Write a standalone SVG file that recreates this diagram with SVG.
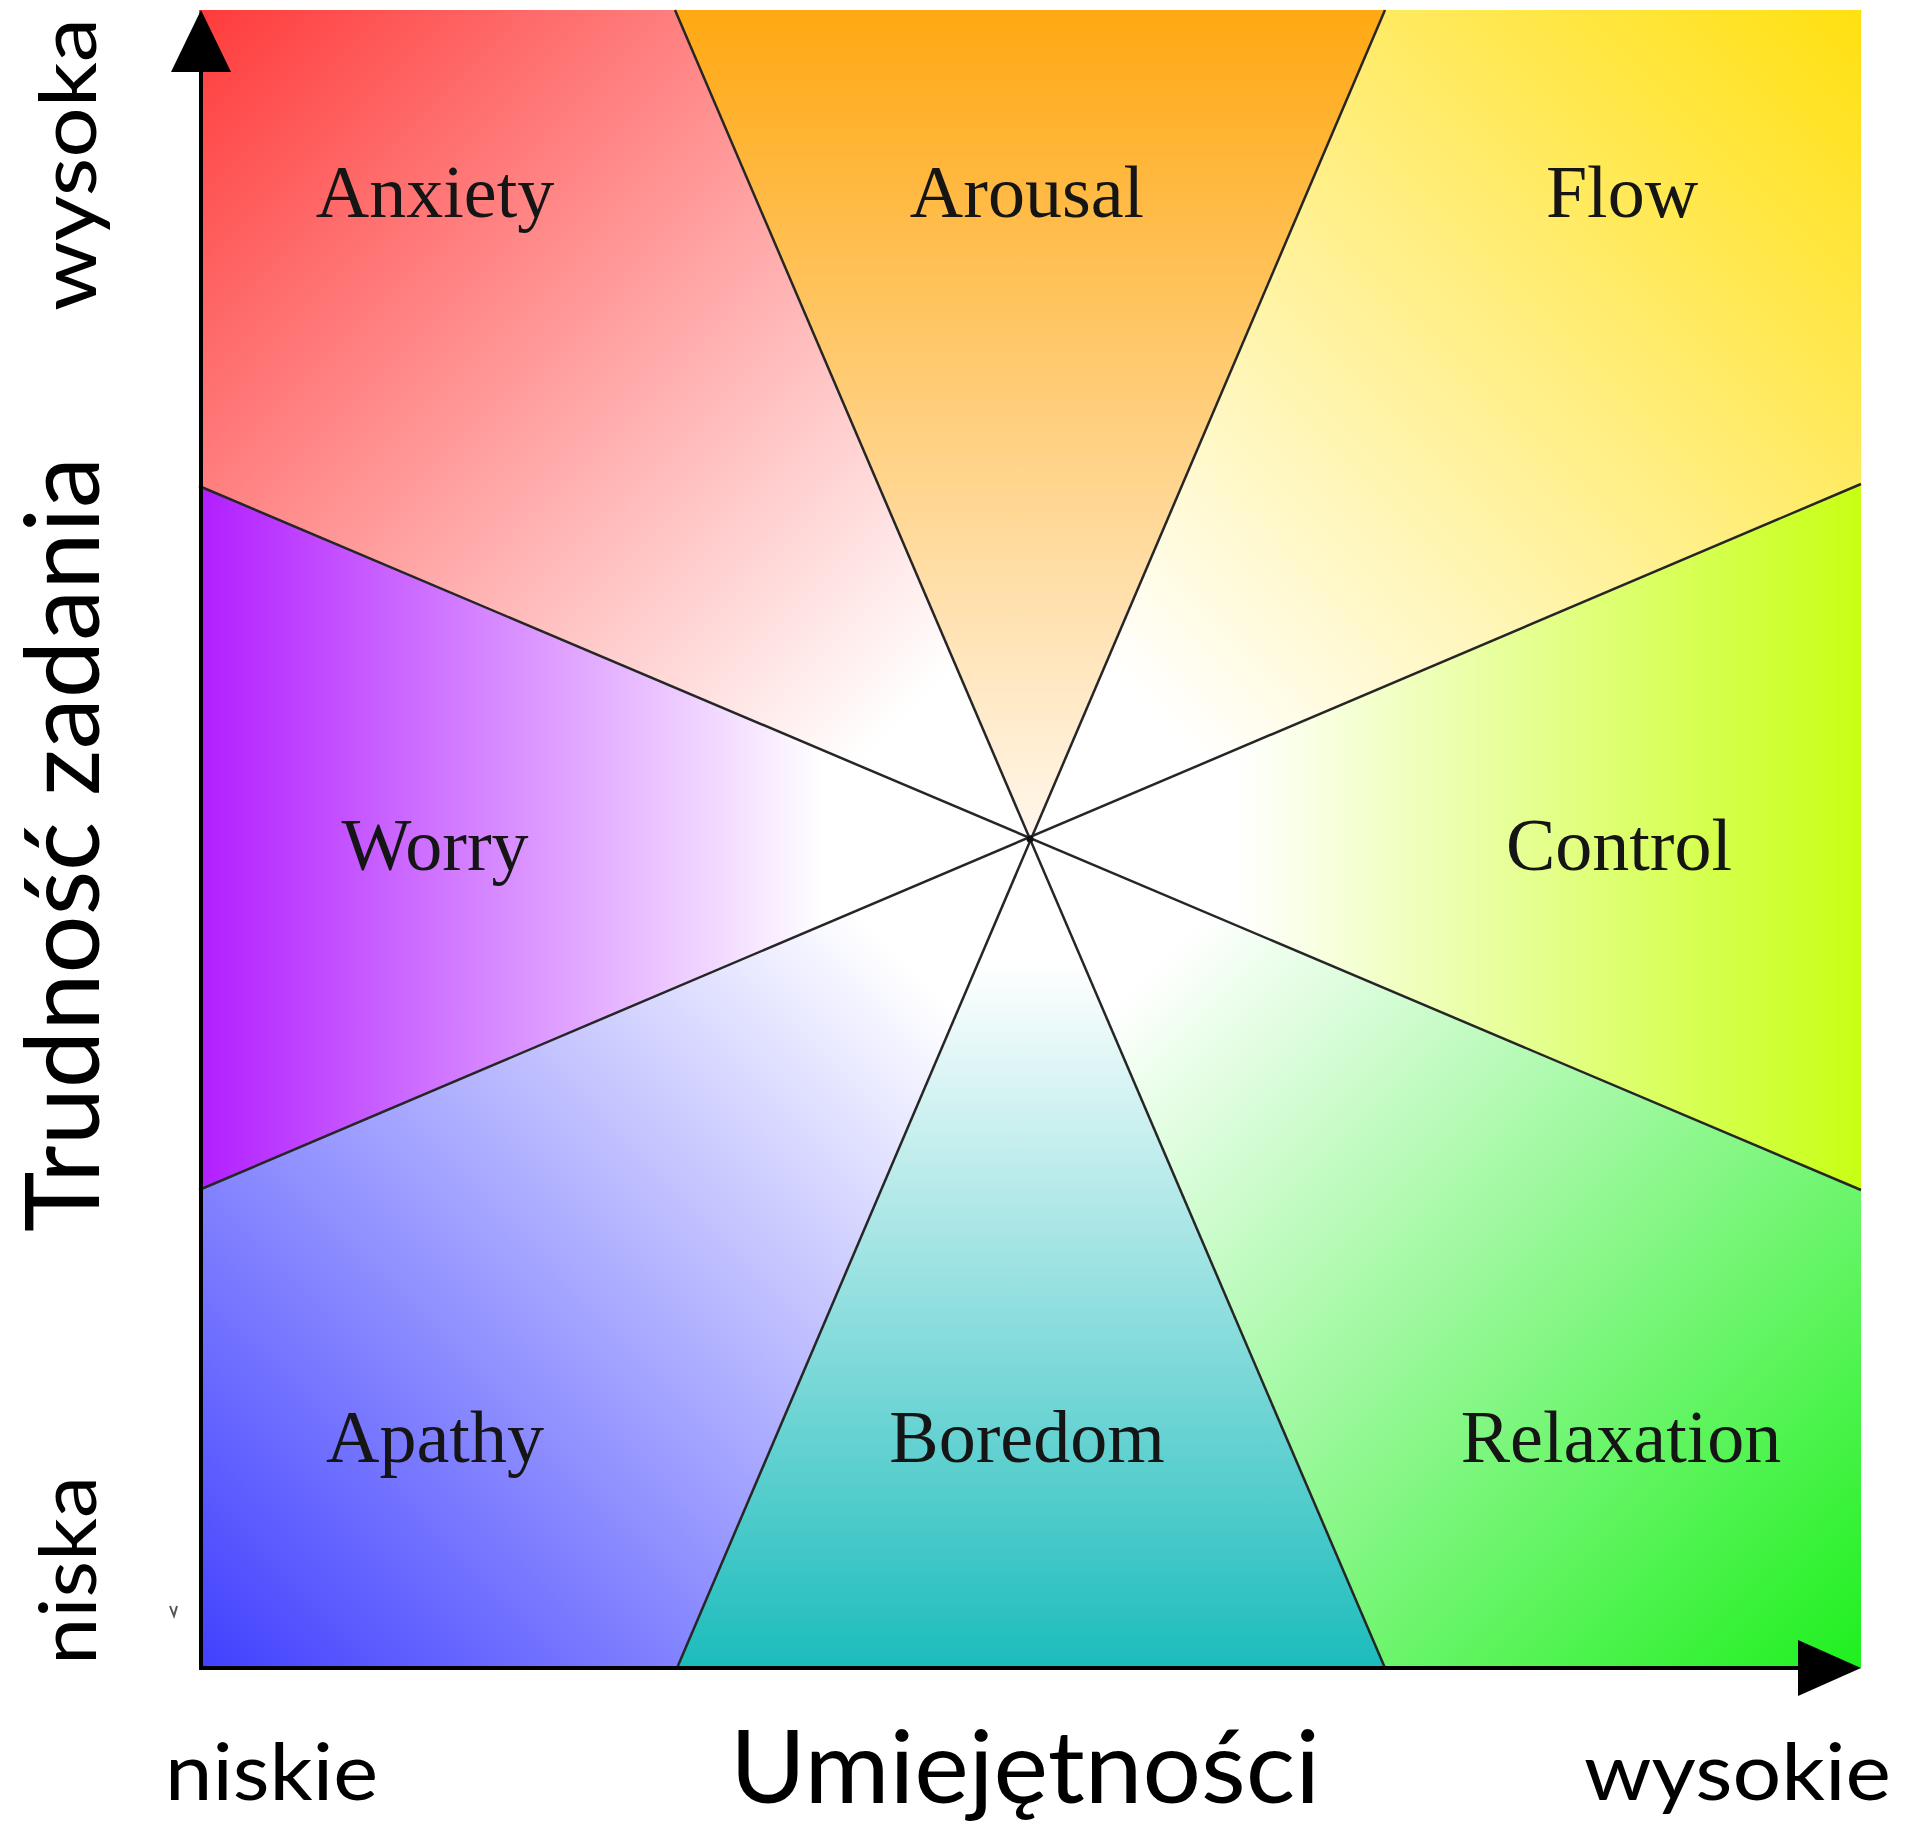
<svg xmlns="http://www.w3.org/2000/svg" width="1913" height="1829" viewBox="0 0 1913 1829">
<style>
.lbl{font-family:"Liberation Serif","Times New Roman",serif;font-size:74px;fill:#151515;text-anchor:middle}
.ax{font-family:Lato,"Open Sans",sans-serif;fill:#000}
.div{stroke:#262626;stroke-width:2.5;fill:none}
.axis{stroke:#000;stroke-width:4;fill:none}
</style>
<defs>
<linearGradient id="gAnx" gradientUnits="userSpaceOnUse" x1="199" y1="10" x2="1030" y2="839"><stop offset="0" stop-color="#ff3b3b"/><stop offset="0.85" stop-color="#ffffff"/></linearGradient>
<linearGradient id="gAro" gradientUnits="userSpaceOnUse" x1="1030" y1="10" x2="1030" y2="839"><stop offset="0" stop-color="#ffa812"/><stop offset="1" stop-color="#fff7ec"/></linearGradient>
<linearGradient id="gFlo" gradientUnits="userSpaceOnUse" x1="1861" y1="10" x2="1030" y2="839"><stop offset="0" stop-color="#ffe010"/><stop offset="0.85" stop-color="#ffffff"/></linearGradient>
<linearGradient id="gWor" gradientUnits="userSpaceOnUse" x1="199" y1="839" x2="1030" y2="839"><stop offset="0" stop-color="#b21eff"/><stop offset="0.75" stop-color="#ffffff"/></linearGradient>
<linearGradient id="gCon" gradientUnits="userSpaceOnUse" x1="1861" y1="839" x2="1030" y2="839"><stop offset="0" stop-color="#c8ff14"/><stop offset="0.75" stop-color="#ffffff"/></linearGradient>
<linearGradient id="gApa" gradientUnits="userSpaceOnUse" x1="199" y1="1668" x2="1030" y2="839"><stop offset="0" stop-color="#4040ff"/><stop offset="0.85" stop-color="#ffffff"/></linearGradient>
<linearGradient id="gBor" gradientUnits="userSpaceOnUse" x1="1030" y1="1668" x2="1030" y2="839"><stop offset="0" stop-color="#1cbcbc"/><stop offset="0.85" stop-color="#ffffff"/></linearGradient>
<linearGradient id="gRel" gradientUnits="userSpaceOnUse" x1="1861" y1="1668" x2="1030" y2="839"><stop offset="0" stop-color="#1ef01e"/><stop offset="0.85" stop-color="#ffffff"/></linearGradient>
</defs>
<rect width="1913" height="1829" fill="#ffffff"/>
<g id="anxiety"><polygon points="199,10 675,10 1030,839 199,486" fill="url(#gAnx)"/><text class="lbl" x="435" y="217">Anxiety</text></g>
<g id="arousal"><polygon points="675,10 1385,10 1030,839" fill="url(#gAro)"/><text class="lbl" x="1027" y="217">Arousal</text></g>
<g id="flow"><polygon points="1385,10 1861,10 1861,484 1030,839" fill="url(#gFlo)"/><text class="lbl" x="1622" y="217">Flow</text></g>
<g id="control"><polygon points="1861,484 1861,1190 1030,839" fill="url(#gCon)"/><text class="lbl" x="1619" y="870">Control</text></g>
<g id="relaxation"><polygon points="1861,1190 1861,1668 1385,1668 1030,839" fill="url(#gRel)"/><text class="lbl" x="1621" y="1462">Relaxation</text></g>
<g id="boredom"><polygon points="1385,1668 677,1668 1030,839" fill="url(#gBor)"/><text class="lbl" x="1027" y="1462">Boredom</text></g>
<g id="apathy"><polygon points="677,1668 199,1668 199,1190 1030,839" fill="url(#gApa)"/><text class="lbl" x="435" y="1462">Apathy</text></g>
<g id="worry"><polygon points="199,1190 199,486 1030,839" fill="url(#gWor)"/><text class="lbl" x="435" y="870">Worry</text></g>
<g id="connectors">
<line class="div" x1="675" y1="10" x2="1385" y2="1668"/>
<line class="div" x1="1385" y1="10" x2="677" y2="1668"/>
<line class="div" x1="199" y1="486" x2="1861" y2="1190"/>
<line class="div" x1="199" y1="1190" x2="1861" y2="484"/>
<circle cx="1030" cy="839" r="3.5" fill="#111"/>
<line class="axis" x1="201" y1="1670" x2="201" y2="60"/>
<polygon points="201,10 171,72 231,72" fill="#000"/>
<line class="axis" x1="199" y1="1668" x2="1810" y2="1668"/>
<polygon points="1861,1668 1798,1640 1798,1696" fill="#000"/>
<path d="M170,1606 L174,1616 L177,1606" stroke="#555" stroke-width="2" fill="none"/>
</g>
<g id="axis-labels">
<text class="ax" x="165" y="1800" font-size="80" textLength="213" lengthAdjust="spacingAndGlyphs">niskie</text>
<text class="ax" x="730" y="1803" font-size="100" textLength="590" lengthAdjust="spacingAndGlyphs">Umiejętności</text>
<text class="ax" x="1584" y="1800" font-size="80" textLength="307" lengthAdjust="spacingAndGlyphs">wysokie</text>
<text class="ax" transform="translate(96,311) rotate(-90)" font-size="80" textLength="293" lengthAdjust="spacingAndGlyphs">wysoka</text>
<text class="ax" transform="translate(99,1232) rotate(-90)" font-size="102" textLength="775" lengthAdjust="spacingAndGlyphs">Trudność zadania</text>
<text class="ax" transform="translate(96,1665) rotate(-90)" font-size="80" textLength="189" lengthAdjust="spacingAndGlyphs">niska</text>
</g>
</svg>
